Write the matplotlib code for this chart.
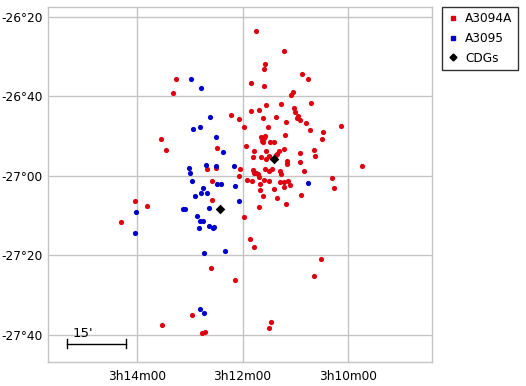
import numpy as np
import matplotlib
matplotlib.use('Agg')
import matplotlib.pyplot as plt
from matplotlib.lines import Line2D

# RA in minutes of time after 3h, Dec in arcmin (negative)
ra_a3094a = [11.749, 11.202, 11.577, 11.596, 10.859, 10.744, 11.844, 11.584, 11.030, 11.069,
             13.262, 13.320, 10.687, 11.272, 11.558, 11.018, 11.844, 11.692, 11.005, 12.219,
             11.615, 11.355, 12.060, 10.967, 10.948, 10.897, 11.170, 10.782, 11.978, 11.520,
             10.127, 10.706, 10.464, 13.549, 11.183, 10.483, 11.653, 11.596, 11.571, 11.634,
             11.603, 11.482, 11.405, 12.487, 11.940, 13.453, 11.774, 11.558, 11.215, 11.297,
             11.336, 10.630, 11.806, 11.653, 11.501, 11.361, 10.897, 10.611, 11.558, 11.145,
             11.145, 10.897, 9.720, 12.671, 12.506, 12.054, 11.806, 11.787, 11.749, 11.704,
             11.571, 11.501, 11.444, 11.291, 11.272, 10.827, 12.073, 11.679, 12.582, 11.921,
             11.825, 11.596, 11.501, 11.673, 11.291, 11.208, 11.126, 11.100, 11.202, 10.293,
             10.248, 11.673, 11.405, 11.615, 10.878, 11.348, 12.588, 11.177, 13.816, 14.051,
             11.692, 11.978, 14.305, 11.863, 11.787, 10.496, 12.607, 10.636, 12.149, 12.963,
             13.529, 11.463, 11.501, 12.779, 12.709]
dec_a3094a = [-1583.5, -1588.6, -1591.8, -1593.1, -1594.4, -1595.6, -1596.6, -1597.4, -1598.9, -1599.6,
              -1595.6, -1599.1, -1601.7, -1601.9, -1602.2, -1602.9, -1603.7, -1603.4, -1603.9, -1604.7,
              -1605.4, -1605.2, -1605.7, -1605.4, -1605.0, -1605.9, -1606.4, -1606.7, -1607.7, -1607.7,
              -1607.5, -1608.5, -1609.0, -1610.7, -1609.7, -1610.7, -1610.2, -1610.5, -1610.1, -1611.2,
              -1611.5, -1611.5, -1611.5, -1613.0, -1612.5, -1613.5, -1613.8, -1613.8, -1613.2, -1613.8,
              -1614.4, -1613.5, -1615.3, -1615.3, -1615.0, -1614.8, -1614.3, -1615.0, -1615.8, -1616.3,
              -1617.0, -1616.5, -1617.5, -1618.3, -1618.0, -1618.3, -1618.5, -1619.3, -1619.3, -1619.6,
              -1618.3, -1618.8, -1618.3, -1618.8, -1619.5, -1618.8, -1620.0, -1620.3, -1621.3, -1621.1,
              -1621.3, -1621.1, -1621.3, -1622.1, -1621.6, -1621.6, -1621.3, -1622.3, -1622.8, -1620.6,
              -1623.1, -1623.6, -1623.3, -1625.1, -1624.8, -1625.6, -1626.1, -1627.1, -1627.6, -1626.3,
              -1627.9, -1630.4, -1631.6, -1635.9, -1637.9, -1641.0, -1643.2, -1645.2, -1646.2, -1655.1,
              -1657.6, -1656.8, -1658.3, -1659.6, -1659.3]

ra_a3095 = [12.983, 12.792, 12.620, 12.951, 12.811, 12.506, 12.372, 13.027, 13.008, 12.696,
            12.506, 12.169, 12.963, 12.487, 12.417, 12.754, 12.143, 12.792, 12.677, 12.906,
            12.073, 12.639, 13.135, 13.091, 14.032, 12.868, 12.811, 12.754, 12.830, 12.639,
            12.544, 12.563, 14.051, 12.735, 12.334, 12.811, 12.735, 10.744]
dec_a3095 = [-1595.6, -1597.9, -1605.2, -1608.2, -1607.7, -1610.2, -1614.0, -1618.0, -1619.3, -1617.3,
             -1617.5, -1617.5, -1621.3, -1622.1, -1622.1, -1623.1, -1622.6, -1624.3, -1624.3, -1625.1,
             -1626.3, -1628.1, -1628.4, -1628.4, -1629.1, -1630.1, -1631.4, -1631.4, -1633.1, -1632.6,
             -1632.9, -1633.1, -1634.4, -1639.4, -1638.9, -1653.5, -1654.6, -1621.8]

ra_cdg = [11.405, 12.429]
dec_cdg = [-1615.8, -1628.4]

ra_ticks = [14, 12, 10]
ra_labels = ['3h14m00', '3h12m00', '3h10m00']
dec_ticks = [-1580, -1600, -1620, -1640, -1660]
dec_labels = ['-26°20', '-26°40', '-27°00', '-27°20', '-27°40']

red = '#e0000f'
blue = '#0000cc'
grey = '#c4c4c4'

fig = plt.figure(figsize=(5.26, 3.86), dpi=100)
ax = fig.add_axes([0.0913, 0.0622, 0.730, 0.9197])

ax.scatter(ra_a3094a, dec_a3094a, s=14, c=red, linewidths=0, zorder=3)
ax.scatter(ra_a3095, dec_a3095, s=14, c=blue, linewidths=0, zorder=3)
ax.scatter(ra_cdg, dec_cdg, s=24, c='black', marker='D', linewidths=0, zorder=4)

ax.set_xlim(15.704, 8.391)
ax.set_ylim(-1666.9, -1577.5)
ax.set_xticks(ra_ticks)
ax.set_xticklabels(ra_labels)
ax.set_yticks(dec_ticks)
ax.set_yticklabels(dec_labels)
ax.tick_params(length=0, labelsize=8.7)
ax.tick_params(axis='x', pad=6)
ax.tick_params(axis='y', pad=4)
ax.grid(True, color=grey, linewidth=1)
ax.set_axisbelow(True)
for sp in ax.spines.values():
    sp.set_color(grey)
    sp.set_linewidth(1)

# 15 arcmin scale bar (RA length corrected for cos(dec))
bar_len = 15 / (15 * np.cos(np.radians(27)))
x0 = 15.348
ybar = -1662.3
ax.plot([x0, x0 - bar_len], [ybar, ybar], color='black', linewidth=1)
ax.plot([x0, x0], [ybar - 1.2, ybar + 1.2], color='black', linewidth=1)
ax.plot([x0 - bar_len, x0 - bar_len], [ybar - 1.2, ybar + 1.2], color='black', linewidth=1)
ax.text(15.037, -1659.6, "15'", fontsize=9.5, ha='center', va='center')

# legend
handles = [Line2D([], [], marker='s', color=red, linestyle='none', markersize=3),
           Line2D([], [], marker='s', color=blue, linestyle='none', markersize=3),
           Line2D([], [], marker='D', color='black', linestyle='none', markersize=3.5)]
leg = fig.legend(handles, ['A3094A', 'A3095', 'CDGs'], loc='upper left',
                 bbox_to_anchor=(0.840, 0.982), borderaxespad=0, fontsize=8.7,
                 frameon=True, fancybox=False, edgecolor='black', borderpad=0.45,
                 handlelength=1.0, handletextpad=0.5, labelspacing=0.55)
leg.get_frame().set_linewidth(1)

fig.savefig('out.png', dpi=100)
